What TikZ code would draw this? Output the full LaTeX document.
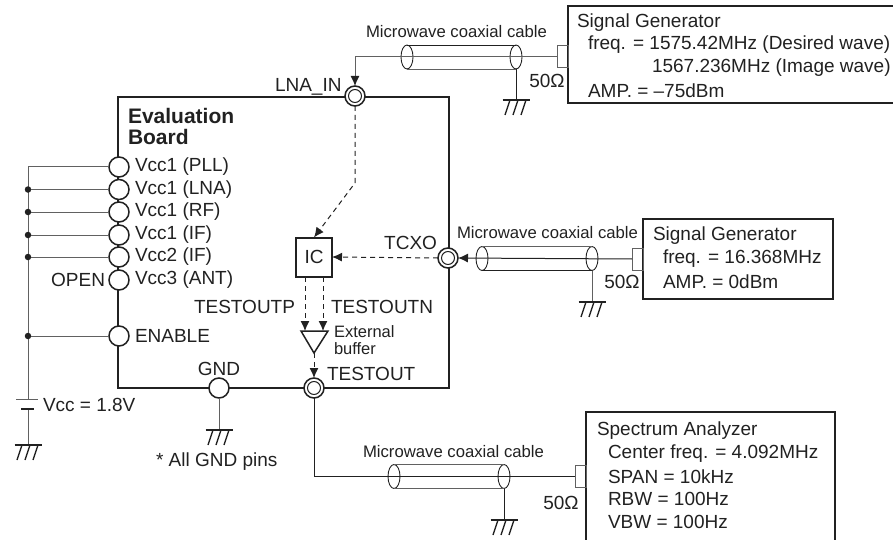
\documentclass[tikz,border=0pt]{standalone}
\usepackage{fontspec}
\setmainfont{Liberation Sans}
\usetikzlibrary{calc,arrows.meta,shapes.geometric}
\definecolor{ink}{gray}{0.13}
\definecolor{wire}{gray}{0.38}
\tikzset{x=1pt,y=-1pt,
  lab/.style={inner sep=0pt,outer sep=0pt,text=ink,font=\fontsize{19}{21}\selectfont},
  cablab/.style={lab,font=\fontsize{16.7}{19}\selectfont},
  pin/.style={circle,draw=ink,fill=white,line width=1.5pt,minimum size=20pt,inner sep=0pt,outer sep=0pt},
  cpin/.style={pin,path picture={\draw[ink,line width=1pt] (path picture bounding box.center) circle[radius=6.5pt];}},
  heavy/.style={draw=ink,line width=2pt,inner sep=0pt,outer sep=0pt},
  wired/.style={draw=wire,line width=1pt},
  dashwire/.style={draw=ink,line width=1pt,dash pattern=on 5pt off 4pt},
  tip/.style={-{Latex[length=10pt,width=9pt,color=ink]}},
  dotn/.style={circle,fill=ink,minimum size=6.5pt,inner sep=0pt,outer sep=0pt},
  conn/.style={draw=wire,line width=1pt,minimum width=11pt,minimum height=22pt,inner sep=0pt,outer sep=0pt},
  ell/.style={draw=ink,line width=0.9pt,ellipse,minimum width=12pt,minimum height=24pt,inner sep=0pt,outer sep=0pt},
  gndsym/.pic={
    \draw[ink,line width=1.8pt] (-13.5,0) -- (13.5,0);
    \foreach \d in {-8,0,8} \draw[ink,line width=1.3pt] (\d+2,0) -- (\d-3,15);
  },
}
\begin{document}
\begin{tikzpicture}
\useasboundingbox (0,0) rectangle (893,540);
% board
\node[heavy,minimum width=331pt,minimum height=291pt,anchor=north west] (board) at (118,97) {};
\node[lab,anchor=north west,align=left,font=\fontsize{21}{21}\selectfont\bfseries] (bt) at (128,108) {Evaluation\\Board};
% instruments
\node[heavy,minimum width=332pt,minimum height=97pt,anchor=north west] (sg1) at (568,6) {};
\node[heavy,minimum width=190pt,minimum height=80pt,anchor=north west] (sg2) at (643,219) {};
\node[heavy,minimum width=249pt,minimum height=140pt,anchor=north west] (sa) at (586,412) {};
\foreach \nm/\x/\y/\t in {a1/577/23/Signal Generator,a2/588/45/freq. = 1575.42MHz (Desired wave),a3/652/68/1567.236MHz (Image wave),a4/588/91/AMP. = –75dBm,
  b1/653/236/Signal Generator,b2/663/259/freq. = 16.368MHz,b3/663/282/AMP. = 0dBm,
  c1/597/431/Spectrum Analyzer,c2/608/454/Center freq. = 4.092MHz,c3/608/477/SPAN = 10kHz,c4/608/499/RBW = 100Hz,c5/608/522/VBW = 100Hz}
  \node[lab,anchor=west] (t\nm) at (\x,\y) {\t};
% pins
\foreach \n/\y in {a/167,b/189.5,c/212,d/235,e/257,f/280,g/336}
  \node[pin] (p\n) at (119,\y) {};
\node[pin] (gnd) at (219,388) {};
\node[cpin] (lna) at (355,96) {};
\node[cpin] (tcxo) at (448,258) {};
\node[cpin] (tout) at (314,388) {};
% pin labels
\foreach \n/\t in {a/Vcc1 (PLL),b/Vcc1 (LNA),c/Vcc1 (RF),d/Vcc1 (IF),e/Vcc2 (IF),f/Vcc3 (ANT),g/ENABLE}
  \node[lab,anchor=west] (l\n) at ($(p\n)+(16,0)$) {\t};
\node[lab,anchor=east] (open) at (105,280) {OPEN};
\node[lab] (lgnd) at (219,369) {GND};
\node[lab,anchor=west] (llna) at (275,87) {LNA\_IN};
\node[lab,anchor=east] (ltcxo) at (437,243) {TCXO};
\node[lab,anchor=west] (ltout) at (327,374) {TESTOUT};
\node[lab,anchor=east] (ltp) at (295,307) {TESTOUTP};
\node[lab,anchor=west] (ltn) at (331,307) {TESTOUTN};
\node[lab,anchor=north west,align=left,font=\fontsize{16.5}{16.5}\selectfont] (lbuf) at (334,326) {External\\buffer};
\node[lab,anchor=west] (lvcc) at (43,405) {Vcc = 1.8V};
\node[lab,anchor=west] (lall) at (156,462) {* All GND pins};
% IC and buffer
\node[heavy,minimum width=36pt,minimum height=39pt,text=ink,font=\fontsize{19}{21}\selectfont] (ic) at (314,257) {IC};
\coordinate (bl) at (301,331); \coordinate (br) at (328,331); \coordinate (ba) at (314,353);
\draw[ink,line width=1.5pt] (bl) -- (br) -- (ba) -- cycle;
\coordinate (ic1) at (305,277); \coordinate (ic2) at (323,277);
\coordinate (bi1) at (305,331); \coordinate (bi2) at (323,331);
\draw[dashwire,tip] (ic1) -- (bi1);
\draw[dashwire,tip] (ic2) -- (bi2);
\draw[dashwire,tip] (ba) -- (tout.north);
\draw[dashwire,tip] (tcxo.west) -- (ic.east);
\coordinate (lbend) at (355,183);
\draw[dashwire,tip] (lna.south) -- (lbend) -- (ic.north);
% left bus
\coordinate (bus) at (28,167);
\coordinate (b1) at (28,399);
\coordinate (b2) at (28,409);
\coordinate (gl) at (28,445);
\draw[wired] (pa.west) -- (bus) -- (b1);
\draw[wired] (b2) -- (gl);
\foreach \n/\y in {b/189.5,c/212,d/235,e/257,g/336} {
  \node[dotn] (d\n) at (28,\y) {};
  \draw[wired] (d\n) -- (p\n.west);
}
\coordinate (b1l) at (16,399); \coordinate (b1r) at (38,399);
\coordinate (b2l) at (21,409); \coordinate (b2r) at (34,409);
\draw[wired] (b1l) -- (b1r);
\draw[ink,line width=2pt] (b2l) -- (b2r);
\pic at (gl) {gndsym};
% gnd pin
\coordinate (gg) at (219,430);
\draw[wired] (gnd.south) -- (gg);
\pic at (gg) {gndsym};
% cables
\node[cablab] (m1) at (456.5,32) {Microwave coaxial cable};
\node[cablab] (m2) at (547.5,233) {Microwave coaxial cable};
\node[cablab] (m3) at (453.5,452) {Microwave coaxial cable};
\node[lab] (o1) at (547,81) {50Ω};
\node[lab] (o2) at (622,282) {50Ω};
\node[lab] (o3) at (561,503) {50Ω};
% cable 1
\node[conn,anchor=east] (c1) at (568,57) {};
\node[ell] (e1a) at (407,57) {};
\node[ell] (e1b) at (516,57) {};
\draw[ink,line width=0.9pt] (e1a.north) -- (e1b.north);
\draw[wire,line width=0.9pt] (e1a.south) -- (e1b.south);
\draw[wired,tip] (c1.west) -| (lna.north);
\coordinate (g1) at (516,100);
\draw[ink,line width=0.9pt] (e1b.south) -- (g1);
\pic at (g1) {gndsym};
% cable 2
\node[conn,anchor=east] (c2) at (643,259) {};
\node[ell] (e2a) at (482,258.5) {};
\node[ell] (e2b) at (592,258.5) {};
\draw[wire,line width=0.9pt] (e2a.north) -- (e2b.north);
\draw[ink,line width=0.9pt] (e2a.south) -- (e2b.south);
\draw[ink,line width=1pt,tip] (c2.west) -- (tcxo.east);
\coordinate (g2) at (592,302);
\draw[wired] (e2b.south) -- (g2);
\pic at (g2) {gndsym};
% cable 3
\node[conn,anchor=east] (c3) at (586,476.5) {};
\node[ell] (e3a) at (394,476.5) {};
\node[ell] (e3b) at (504,476.5) {};
\draw[wire,line width=0.9pt] (e3a.north) -- (e3b.north);
\draw[wire,line width=0.9pt] (e3a.south) -- (e3b.south);
\draw[ink,line width=0.9pt] (tout.south) |- (c3.west);
\coordinate (g3) at (504,520);
\draw[ink,line width=0.9pt] (e3b.south) -- (g3);
\pic at (g3) {gndsym};
\end{tikzpicture}
\end{document}
